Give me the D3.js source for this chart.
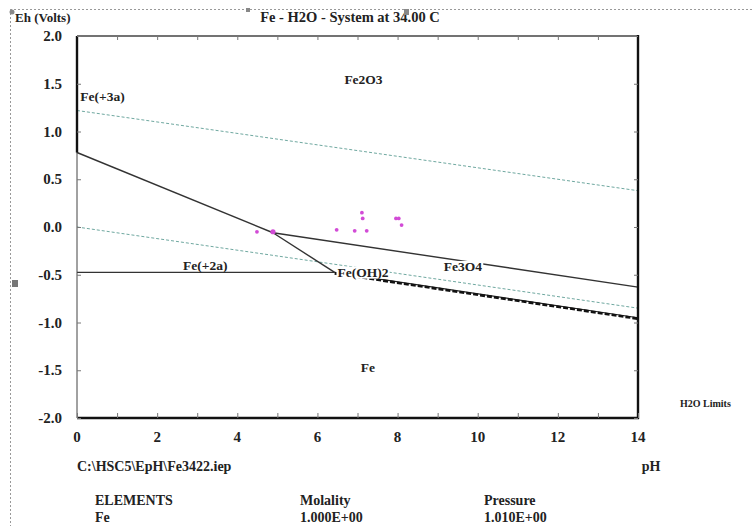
<!DOCTYPE html>
<html>
<head>
<meta charset="utf-8">
<script src="https://cdn.jsdelivr.net/npm/d3@7"></script>
<style>
  body { margin:0; background:#fff; }
  text { font-family:"Liberation Serif", "Times New Roman", serif; font-weight:bold; fill:#222; }
</style>
</head>
<body>
<div id="chart"></div>
<script>
// axis ticks
let phTicks = [0,2,4,6,8,10,12,14]
let phMinor = d3.range(0,15,1)
let ehTicks = [2.0,1.5,1.0,0.5,0.0,-0.5,-1.0,-1.5,-2.0]

// water stability limits (dotted)
let waterUpper = [[0,1.22],[14,0.38]]
let waterLower = [[0,0.0],[14,-0.85]]

// phase boundaries [pH, Eh]
let fe3Fe2o3   = [[0,2.0],[0,0.78]]
let fe2Fe2o3   = [[0,0.78],[4.89,-0.06]]
let fe2Fe3o4   = [[4.89,-0.06],[6.43,-0.475]]
let fe2Fe      = [[0,-0.475],[6.43,-0.475]]
let fe2o3Fe3o4 = [[4.89,-0.06],[14,-0.63]]
let fe3o4Fe    = [[6.43,-0.475],[14,-0.95]]

// measured samples
let samplePh = [4.49,4.89,6.48,6.93,7.23,7.11,7.13,7.96,8.03,8.10]
let sampleEh = [-0.05,-0.05,-0.03,-0.04,-0.04,0.15,0.09,0.09,0.09,0.02]

// stability field labels
let fieldNames = ["Fe2O3","Fe(+3a)","Fe(+2a)","Fe(OH)2","Fe3O4","Fe"]
let fieldPh    = [7.15,0.08,3.2,6.5,9.63,7.26]
let fieldEh    = [1.50,1.32,-0.45,-0.52,-0.46,-1.52]
let fieldAnchor= ["middle","start","middle","start","middle","middle"]

let width = 752, height = 526

let svg = d3.select("#chart").append("svg")
  .attr("width",width).attr("height",height)
  .attr("font-family","Liberation Serif, serif")

let xScale = d3.scaleLinear().domain([0,14]).range([77,638])
let yScale = d3.scaleLinear().domain([-2,2]).range([418,36])

let line = d3.line().x(d=>xScale(d[0])).y(d=>yScale(d[1]))

// outer dotted frame
svg.append("path").attr("d","M10,9.5 H752 M10.5,9 V526")
  .attr("stroke","#999").attr("stroke-dasharray","2,2").attr("fill","none")
svg.append("circle").attr("cx",12).attr("cy",12).attr("r",2.5).attr("fill","#888")
svg.append("rect").attr("x",12).attr("y",280).attr("width",6).attr("height",7).attr("fill","#777")
svg.append("rect").attr("x",246).attr("y",8).attr("width",4).attr("height",4).attr("fill","#888")

// water limits
;[waterUpper,waterLower].forEach(w=>{
  svg.append("path").attr("d",line(w)).attr("fill","none")
    .attr("stroke","#6fa8a0").attr("stroke-width",1).attr("stroke-dasharray","3,2")
})

// boundaries
;[fe2Fe2o3,fe2Fe3o4,fe2Fe,fe2o3Fe3o4].forEach(b=>{
  svg.append("path").attr("d",line(b)).attr("fill","none")
    .attr("stroke","#333").attr("stroke-width",1.4)
})
svg.append("path").attr("d",line(fe3o4Fe)).attr("fill","none")
  .attr("stroke","#222").attr("stroke-width",1.2)
svg.append("path").attr("d",line(fe3o4Fe)).attr("fill","none")
  .attr("stroke","#111").attr("stroke-width",2.6).attr("stroke-dasharray","5,2")
  .attr("transform","translate(0,1)")

// frame
let x0 = xScale(0), x1 = xScale(14), yT = yScale(2), yB = yScale(-2)
svg.append("path").attr("d",`M${x0},${yT} H${x1}`).attr("stroke","#444").attr("stroke-width",1.6)
svg.append("path").attr("d",`M${x1},${yT-1} V${yB+1}`).attr("stroke","#111").attr("stroke-width",2.4)
svg.append("path").attr("d",`M${x0},${yB} H${x1+1}`).attr("stroke","#111").attr("stroke-width",2.4)
svg.append("path").attr("d",`M${x0},${yT} V${yB}`).attr("stroke","#444").attr("stroke-width",1)
svg.append("path").attr("d",line(fe3Fe2o3)).attr("stroke","#111").attr("stroke-width",2.4)

// axes with inward ticks
let xBottom = svg.append("g").attr("transform",`translate(0,${yB})`)
  .call(d3.axisBottom(xScale).tickValues(phMinor).tickSize(-5).tickFormat(""))
let xTop = svg.append("g").attr("transform",`translate(0,${yT})`)
  .call(d3.axisTop(xScale).tickValues(phMinor.slice(1,-1)).tickSize(-4).tickFormat(""))
let yLeft = svg.append("g").attr("transform",`translate(${x0},0)`)
  .call(d3.axisLeft(yScale).tickValues(ehTicks).tickSize(-4).tickFormat(""))
let yRight = svg.append("g").attr("transform",`translate(${x1},0)`)
  .call(d3.axisRight(yScale).tickValues(ehTicks).tickSize(-4).tickFormat(""))
;[xBottom,xTop,yLeft,yRight].forEach(g=>{
  g.select(".domain").remove()
  g.selectAll(".tick text").remove()
  g.selectAll(".tick line").attr("stroke","#777")
})

svg.selectAll(".xlab").data(phTicks).enter().append("text")
  .attr("x",d=>xScale(d)).attr("y",yB+24).attr("text-anchor","middle")
  .attr("font-size",15).text(d=>d)
svg.selectAll(".ylab").data(ehTicks).enter().append("text")
  .attr("x",62).attr("y",d=>yScale(d)+5).attr("text-anchor","end")
  .attr("font-size",15).text(d=>d.toFixed(1))

// samples
svg.selectAll(".pt").data(samplePh).enter().append("circle")
  .attr("cx",d=>xScale(d)).attr("cy",(d,i)=>yScale(sampleEh[i]))
  .attr("r",(d,i)=>i==1?2.6:1.9).attr("fill","#d24bd6")

// field labels with white backing
fieldNames.forEach((name,i)=>{
  let t = svg.append("text").attr("x",xScale(fieldPh[i])).attr("y",yScale(fieldEh[i]))
    .attr("text-anchor",fieldAnchor[i]).attr("font-size",13.5).text(name)
  if(name=="Fe3O4" || name=="Fe(OH)2"){
    let b = t.node().getBBox()
    svg.insert("rect",()=>t.node()).attr("x",b.x-1).attr("y",b.y+2).attr("width",b.width+2).attr("height",b.height-3).attr("fill","#fff")
  }
})

// titles
svg.append("text").attr("x",15).attr("y",22).attr("font-size",13).text("Eh (Volts)")
svg.append("text").attr("x",350).attr("y",22).attr("text-anchor","middle").attr("font-size",14.5).text("Fe - H2O - System at 34.00 C")
svg.append("rect").attr("x",404).attr("y",9).attr("width",5).attr("height",6).attr("fill","#888")
svg.append("text").attr("x",680).attr("y",407).attr("font-size",10).text("H2O Limits")
svg.append("text").attr("x",77).attr("y",471).attr("font-size",14).text("C:\\HSC5\\EpH\\Fe3422.iep")
svg.append("text").attr("x",651).attr("y",471).attr("text-anchor","middle").attr("font-size",14).text("pH")

let infoCols = [95,300,484]
let infoHead = ["ELEMENTS","Molality","Pressure"]
let infoRow  = ["Fe","1.000E+00","1.010E+00"]
infoHead.forEach((h,i)=>{
  svg.append("text").attr("x",infoCols[i]).attr("y",505).attr("font-size",14).text(h)
  svg.append("text").attr("x",infoCols[i]).attr("y",522).attr("font-size",14).text(infoRow[i])
})
</script>
</body>
</html>
